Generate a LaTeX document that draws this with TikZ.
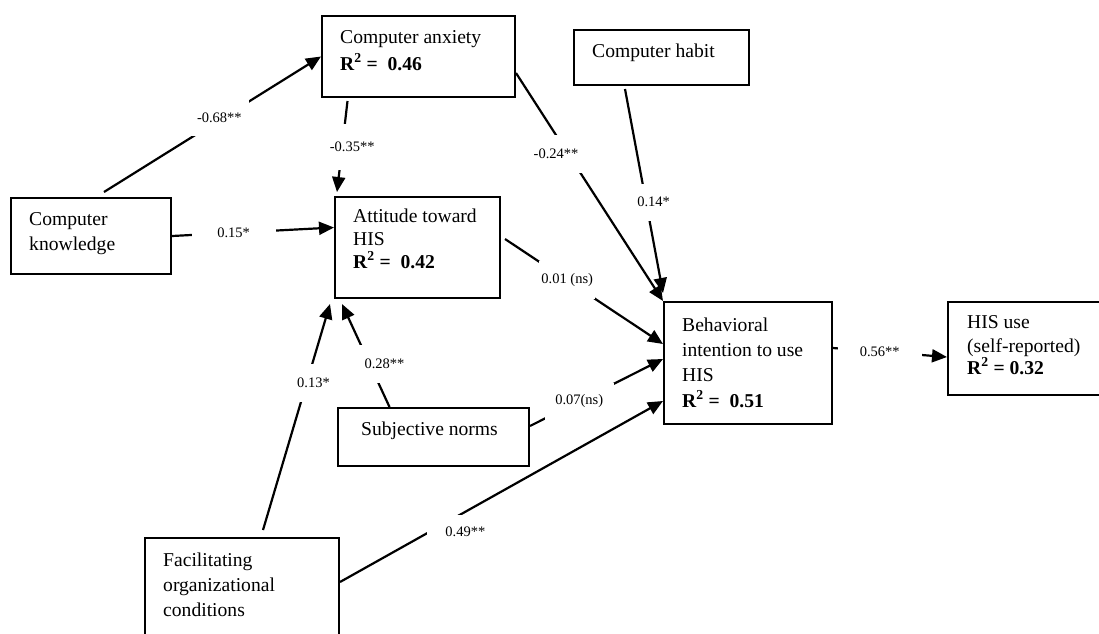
\documentclass[tikz,border=0pt]{standalone}
\usepackage{fontspec}
\setmainfont{Liberation Serif}
\usetikzlibrary{arrows.meta, positioning, calc}
\newcommand{\boxtext}{\fontsize{19.6}{25}\selectfont}
\newcommand{\coeftext}{\fontsize{14.5}{17}\selectfont}
\newcommand{\rsq}[1]{\textbf{R\textsuperscript{2} =\ \ #1}}

\begin{document}
\begin{tikzpicture}[x=1pt, y=-1pt,
  box/.style={draw, line width=2pt, anchor=north west, inner sep=0pt},
  txt/.style={anchor=base west, align=left, inner sep=0pt, font=\boxtext},
  coef/.style={fill=white, inner sep=0pt, font=\coeftext},
  link/.style={line width=2.2pt, -{Triangle[length=15pt, width=13pt]}},
]
  \clip (0,0) rectangle (1099,633);

  % Constructs
  \node[box, minimum width=193, minimum height=81] (anx) at (321,15) {};
  \node[box, minimum width=160, minimum height=76] (kno) at (10,197) {};
  \node[box, minimum width=165, minimum height=101] (att) at (334,196) {};
  \node[box, minimum width=175, minimum height=55] (hab) at (573,29) {};
  \node[box, minimum width=168, minimum height=122] (beh) at (663,301) {};
  \node[box, minimum width=170, minimum height=93] (his) at (947,301) {};
  \node[box, minimum width=191, minimum height=58] (sub) at (337,407) {};
  \node[box, minimum width=194, minimum height=120] (fac) at (144,537) {};

  % Texts inside the boxes (placed by the baseline of their last line)
  \node[txt] (anx-t) at ([shift={(19,55)}]anx.north west)
    {Computer anxiety\\[2pt]\rsq{0.46}};
  \node[txt] (kno-t) at ([shift={(19,53)}]kno.north west)
    {Computer\\knowledge};
  \node[txt] (att-t) at ([shift={(19,72)}]att.north west)
    {Attitude toward\\[-2pt]HIS\\[-2pt]\rsq{0.42}};
  \node[txt] (hab-t) at ([shift={(19,28)}]hab.north west) {Computer habit};
  \node[txt] (beh-t) at ([shift={(19,106)}]beh.north west)
    {Behavioral\\intention to use\\HIS\\[1pt]\rsq{0.51}};
  \node[txt] (his-t) at ([shift={(20,73)}]his.north west)
    {HIS use\\[-1pt](self-reported)\\[-3pt]\textbf{R\textsuperscript{2} = 0.32}};
  \node[txt] (sub-t) at ([shift={(24,28)}]sub.north west) {Subjective norms};
  \node[txt] (fac-t) at ([shift={(19,79)}]fac.north west)
    {Facilitating\\organizational\\conditions};

  % Paths with coefficients
  \draw[link] ([shift={(13,-5)}]kno.north) -- (anx.west)
    node[coef, pos=.55, xshift=-4pt, minimum width=59, minimum height=38] (c1) {-0.68**};
  \draw[link] (kno.east) -- ([yshift=20pt]att.west)
    node[coef, pos=.38, minimum width=84, minimum height=30] (c2) {0.15*};
  \draw[link] ([shift={(-71,3)}]anx.south) -- ([shift={(3,-4)}]att.north west)
    node[coef, pos=.5, xshift=10pt, minimum width=60, minimum height=46] (c3) {-0.35**};
  \draw[link] ([yshift=-16.5pt]anx.east) -- (beh.north west)
    node[coef, pos=.354, xshift=-12pt, minimum width=60, minimum height=38] (c4) {-0.24**};
  \draw[link] ([shift={(-36.5,3)}]hab.south) -- ([yshift=8pt]beh.north west)
    node[coef, pos=.555, xshift=7.5pt, minimum width=44, minimum height=37] (c5) {0.14*};
  \draw[link] ([shift={(4,-8.5)}]att.east) -- ([yshift=19pt]beh.west)
    node[coef, pos=.394, minimum width=56, minimum height=38] (c6) {0.01 (ns)};
  \draw[link] ([yshift=11pt]sub.east) -- ([yshift=4pt]beh.west)
    node[coef, pos=.37, minimum width=69, minimum height=37] (c7) {0.07(ns)};
  \draw[link] ([xshift=-44pt]sub.north) -- ([shift={(8,5)}]att.south west)
    node[coef, pos=.42, xshift=15pt, minimum width=54, minimum height=38] (c8) {0.28**};
  \draw[link] ([shift={(21,-7)}]fac.north) -- ([shift={(-4,5)}]att.south west)
    node[coef, pos=.65, xshift=7pt, minimum width=44, minimum height=38] (c9) {0.13*};
  \draw[link] ([yshift=-45pt]fac.north east) -- ([yshift=-38pt]beh.west)
    node[coef, pos=.317, xshift=23pt, yshift=-7pt, minimum width=76, minimum height=33] (c10) {0.49**};
  \draw[link] ([yshift=15pt]beh.east) -- ([yshift=-8.5pt]his.west)
    node[coef, pos=.41, minimum width=84, minimum height=30] (c11) {0.56**};
\end{tikzpicture}
\end{document}
